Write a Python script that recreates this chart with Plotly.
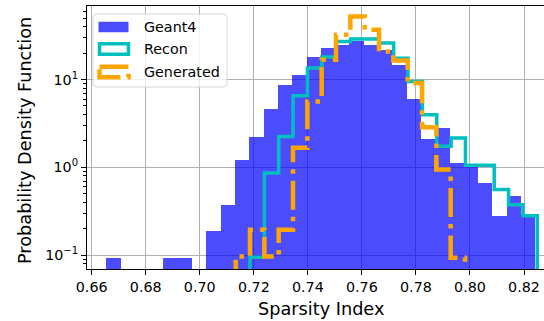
import numpy as np
import plotly.graph_objects as go

# ---------------- data ----------------
geant4_range = (0.66540, 0.82418)   # 30 bins
geant4_density = [0.094, 0, 0, 0, 0.094, 0.094, 0, 0.19, 0.378, 1.23,
                  2.22, 4.66, 8.7, 11.3, 18.0, 23.0, 24.8, 27.1, 24.8, 21.8,
                  14.7, 6.0, 2.11, 2.81, 1.12, 1.0, 0.667, 0.283, 0.47, 0.291]

recon_range = (0.71859, 0.82492)    # 20 bins
recon_density = [0.095, 0.866, 2.25, 6.55, 13.5, 18.0, 27.1, 28.9, 28.9, 26.0,
                 17.5, 9.5, 3.98, 1.74, 2.16, 1.06, 1.06, 0.56, 0.377, 0.283]

generated_range = (0.71329, 0.79816)  # 16 bins
generated_density = [0.097, 0.196, 0.097, 0.196, 1.67, 5.64, 16.8, 32.3,
                     52.0, 36.8, 20.8, 16.4, 9.12, 2.87, 0.945, 0.094]

x_ticks = [0.66, 0.68, 0.70, 0.72, 0.74, 0.76, 0.78, 0.80, 0.82]
x_tick_labels = ["0.66", "0.68", "0.70", "0.72", "0.74", "0.76", "0.78", "0.80", "0.82"]
y_ticks = [0.1, 1, 10]
y_tick_labels = ["10<sup>\u22121</sup>", "10<sup>0</sup>", "10<sup>1</sup>"]
legend_labels = ["Geant4", "Recon", "Generated"]

# ---------------- styling ----------------
FONT = "DejaVu Sans"
W, H = 544, 321
ML, MR, MT, MB = 87, 0, 6, 52
PW, PH = W - ML - MR, H - MT - MB
BLUE = "rgba(0,0,255,0.7)"
CYAN = "#00BFBF"
ORANGE = "#FFA500"
GEN_DASH = "29px,7px,4.5px,7px"


def edges_of(rng, n):
    return np.linspace(rng[0], rng[1], n + 1)


def step_xy(edges, vals, base=1e-3):
    xs = [edges[0]] + list(edges[:-1]) + [edges[-1]]
    ys = [base] + list(vals) + [base]
    return xs, ys


fig = go.Figure()

ge = edges_of(geant4_range, len(geant4_density))
fig.add_trace(go.Bar(
    x=(ge[:-1] + ge[1:]) / 2, y=geant4_density, width=np.diff(ge),
    marker=dict(color=BLUE, line=dict(width=0)), name=legend_labels[0],
    showlegend=False))

re_ = edges_of(recon_range, len(recon_density))
xs, ys = step_xy(re_, recon_density)
fig.add_trace(go.Scatter(x=xs, y=ys, mode="lines", line_shape="hv",
                         line=dict(color=CYAN, width=3.5), name=legend_labels[1],
                         showlegend=False))

gn = edges_of(generated_range, len(generated_density))
xs, ys = step_xy(gn, generated_density)
fig.add_trace(go.Scatter(x=xs, y=ys, mode="lines", line_shape="hv",
                         line=dict(color=ORANGE, width=4.5, dash=GEN_DASH),
                         name=legend_labels[2], showlegend=False))

minor_vals = [m * 10.0 ** k for k in (-2, -1, 0, 1) for m in range(2, 10)]

fig.update_xaxes(
    range=[0.65826, 0.82740], tickvals=x_ticks, ticktext=x_tick_labels,
    showline=True, linecolor="black", linewidth=1.1, mirror=True,
    ticks="outside", ticklen=5, tickwidth=1.1, tickcolor="black",
    showgrid=True, gridcolor="#b0b0b0", gridwidth=1.1, zeroline=False,
    tickfont=dict(family=FONT, size=14.3, color="black"))
fig.update_yaxes(
    type="log", range=[-1.1546, 1.8357], tickvals=y_ticks, ticktext=y_tick_labels,
    showline=True, linecolor="black", linewidth=1.1, mirror=False,
    ticks="outside", ticklen=5, tickwidth=1.1, tickcolor="black",
    showgrid=True, gridcolor="#b0b0b0", gridwidth=1.1, zeroline=False,
    minor=dict(tickvals=minor_vals, ticks="outside", ticklen=3, tickwidth=0.85,
               tickcolor="black", showgrid=False),
    tickfont=dict(family=FONT, size=14.3, color="black"))


def px(x):
    return (x - ML) / PW


def py(y):
    return (MT + PH - y) / PH


# legend frame (rounded)
lx0, lx1, ly0, ly1, r = 93, 227, 14, 87, 3.5
rx, ry = r / PW, r / PH
X0, X1, Y0, Y1 = px(lx0), px(lx1), py(ly0), py(ly1)
path = (f"M{X0+rx},{Y0} L{X1-rx},{Y0} Q{X1},{Y0} {X1},{Y0-ry} "
        f"L{X1},{Y1+ry} Q{X1},{Y1} {X1-rx},{Y1} L{X0+rx},{Y1} "
        f"Q{X0},{Y1} {X0},{Y1+ry} L{X0},{Y0-ry} Q{X0},{Y0} {X0+rx},{Y0} Z")
shapes = [dict(type="path", path=path, xref="paper", yref="paper", layer="above",
               fillcolor="rgba(255,255,255,0.8)",
               line=dict(color="rgba(204,204,204,0.8)", width=1))]

hx0, hx1 = 98.5, 128.5
centers = [27, 49, 72]
hh = 10.5
shapes.append(dict(type="rect", xref="paper", yref="paper", layer="above",
                   x0=px(hx0), x1=px(hx1), y0=py(centers[0] - hh / 2), y1=py(centers[0] + hh / 2),
                   fillcolor=BLUE, line=dict(width=0)))
shapes.append(dict(type="rect", xref="paper", yref="paper", layer="above",
                   x0=px(hx0 + 1), x1=px(hx1), y0=py(centers[1] - hh / 2), y1=py(centers[1] + hh / 2),
                   fillcolor="rgba(0,0,0,0)", line=dict(color=CYAN, width=3.5)))
shapes.append(dict(type="rect", xref="paper", yref="paper", layer="above",
                   x0=px(hx0 + 1), x1=px(hx1), y0=py(centers[2] - hh / 2), y1=py(centers[2] + hh / 2),
                   fillcolor="rgba(0,0,0,0)", line=dict(color=ORANGE, width=4.5, dash=GEN_DASH)))

annotations = []
for lab, cy in zip(legend_labels, centers):
    annotations.append(dict(text=lab, xref="paper", yref="paper", x=px(141.5), y=py(cy),
                            xanchor="left", yanchor="middle", showarrow=False,
                            font=dict(family=FONT, size=14.3, color="black")))

annotations.append(dict(text="Sparsity Index", xref="paper", yref="paper",
                        x=px(321), y=py(309), xanchor="center", yanchor="middle",
                        showarrow=False, font=dict(family=FONT, size=17.7, color="black")))
annotations.append(dict(text="Probability Density Function", xref="paper", yref="paper",
                        x=px(25), y=py(141), xanchor="center", yanchor="middle",
                        textangle=-90, showarrow=False,
                        font=dict(family=FONT, size=17.7, color="black")))

fig.update_layout(
    width=W, height=H, margin=dict(l=ML, r=MR, t=MT, b=MB, autoexpand=False),
    plot_bgcolor="white", paper_bgcolor="white", showlegend=False,
    bargap=0, shapes=shapes, annotations=annotations,
    font=dict(family=FONT, color="black"))

fig.write_html("out.html")
